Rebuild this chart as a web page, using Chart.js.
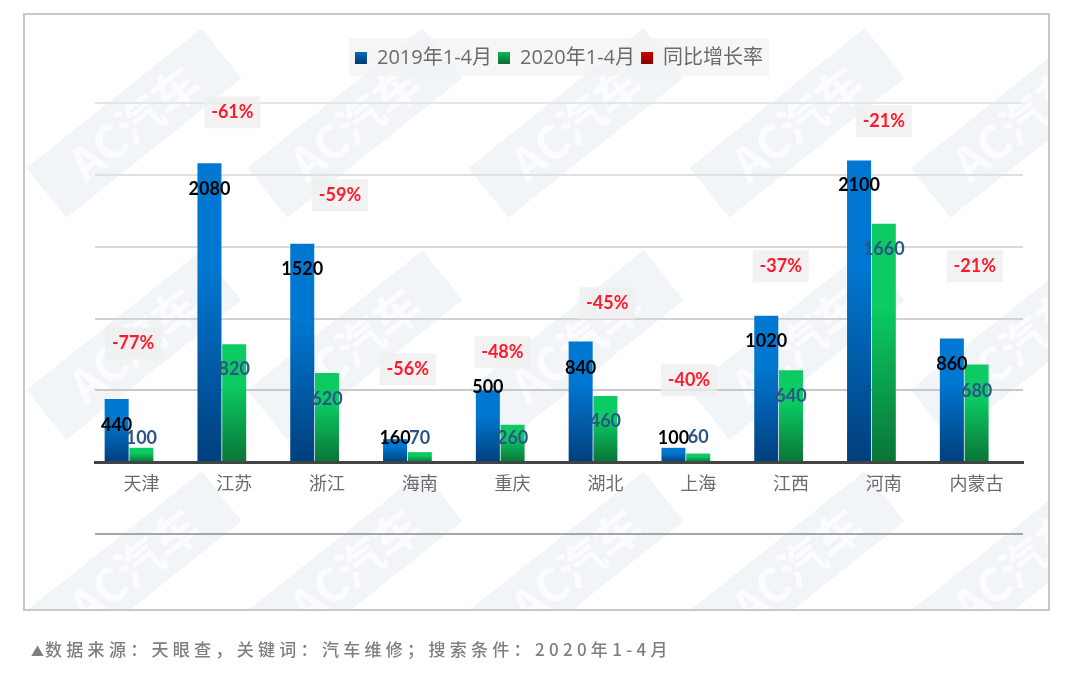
<!DOCTYPE html>
<html>
<head>
<meta charset="utf-8">
<script src="https://cdn.jsdelivr.net/npm/chart.js@4"></script>
<style>
body { margin: 0; background: #fff; }
#salesChart { position: absolute; left: 0; top: 0; }
#source { position: absolute; left: 31px; top: 636px; font: 500 17px "Noto Sans CJK SC"; letter-spacing: 4.3px; color: #7f7f7f; white-space: nowrap; }
#source span { font-size: 13px; letter-spacing: 1px; }
</style>
</head>
<body>
<canvas id="salesChart" width="1080" height="678"></canvas>
<div id="source"><span>▲</span>数据来源：天眼查，关键词：汽车维修；搜索条件：2020年1-4月</div>
<script>
const provinces = ['天津', '江苏', '浙江', '海南', '重庆', '湖北', '上海', '江西', '河南', '内蒙古'];
const sales2019 = [440, 2080, 1520, 160, 500, 840, 100, 1020, 2100, 860];
const sales2020 = [100, 820, 620, 70, 260, 460, 60, 640, 1660, 680];
const growthRate = [-0.77, -0.61, -0.59, -0.56, -0.48, -0.45, -0.40, -0.37, -0.21, -0.21];
const yTicks = [-500, 0, 500, 1000, 1500, 2000, 2500];

// the labels were dragged by hand in the original, so each one has its own spot
const label2019Y = [257, 1900, 1343, 167, 522, 654, 167, 842, 1927, 682];
const label2020Y = [167, 647, 438, 167, 167, 285, 174, 459, 1482, 494];
const rateLabelY = [828, 2435, 1858, 647, 765, 1106, 570, 1364, 2373, 1364];
const rateLabelX = [-0.09, -0.02, 0.14, -0.13, -0.11, 0.02, -0.1, -0.11, 0, -0.02];

const gridColors = { '-500': '#a6a6a6', '500': '#c9c9c9', '1000': '#d2d2d2', '1500': '#dadada', '2000': '#e0e0e0', '2500': '#e6e6e6' };
const markColumns = [134, 355, 576, 797, 1018];
const markRows = [123, 345, 566];
const legendColors = [['#0077d1', '#003f7c'], ['#0bcb62', '#0a7437'], ['#e00000', '#8c0000']];

function barGradient(top, bottom) {
    return function (context) {
        const chart = context.chart;
        if (!chart.chartArea || !context.parsed) return top;
        const y = chart.scales.y;
        const g = chart.ctx.createLinearGradient(0, y.getPixelForValue(context.parsed.y), 0, y.getPixelForValue(0));
        g.addColorStop(0, top);
        g.addColorStop(0.35, top);
        g.addColorStop(1, bottom);
        return g;
    };
}

const backdrop = {
    id: 'backdrop',
    beforeDraw(chart) {
        const c = chart.ctx;
        c.save();
        c.beginPath();
        c.rect(24, 14, 1025, 596);
        c.clip();
        markRows.forEach(function (my) {
            markColumns.forEach(function (mx) {
                c.save();
                c.translate(mx, my);
                c.rotate(-38.5 * Math.PI / 180);
                c.fillStyle = '#f2f5f8';
                c.fillRect(-112, -32, 224, 64);
                c.fillStyle = '#fbfcfd';
                c.font = 'bold 46px "Noto Sans CJK SC"';
                c.textAlign = 'center';
                c.textBaseline = 'middle';
                c.fillText('AC汽车', 0, 0);
                c.restore();
            });
        });
        c.restore();
        c.strokeStyle = '#c8c8c8';
        c.lineWidth = 2;
        c.strokeRect(24, 14, 1025, 596);
        c.fillStyle = 'rgba(242,242,242,0.7)';
        c.fillRect(349, 38, 420, 38);
    }
};

const barLabels = {
    id: 'barLabels',
    afterDatasetsDraw(chart) {
        const c = chart.ctx;
        const x = chart.scales.x;
        const y = chart.scales.y;
        c.save();
        c.textAlign = 'center';
        c.textBaseline = 'middle';
        c.font = 'bold 18px Lato';
        chart.getDatasetMeta(0).data.forEach(function (bar, i) {
            c.fillStyle = '#000';
            c.fillText(sales2019[i], bar.x, y.getPixelForValue(label2019Y[i]));
        });
        chart.getDatasetMeta(1).data.forEach(function (bar, i) {
            c.fillStyle = '#2b5588';
            c.fillText(sales2020[i], bar.x, y.getPixelForValue(label2020Y[i]));
        });
        growthRate.forEach(function (rate, i) {
            const px = x.getPixelForValue(i + rateLabelX[i]);
            const py = y.getPixelForValue(rateLabelY[i]);
            c.fillStyle = 'rgba(238,238,238,0.75)';
            c.fillRect(px - 28, py - 16, 56, 32);
            c.fillStyle = '#ff1a2b';
            c.fillText(Math.round(rate * 100) + '%', px, py);
        });
        c.restore();
    }
};

const salesCtx = document.getElementById('salesChart').getContext('2d');
const salesChart = new Chart(salesCtx, {
    type: 'bar',
    data: {
        labels: provinces,
        datasets: [{
            label: '2019年1-4月',
            data: sales2019,
            backgroundColor: barGradient('#0077d1', '#003f7c')
        }, {
            label: '2020年1-4月',
            data: sales2020,
            backgroundColor: barGradient('#0bcb62', '#0a7437')
        }, {
            // rates are fractions on a scale of thousands, only the legend entry and labels show
            label: '同比增长率',
            data: growthRate,
            backgroundColor: 'transparent'
        }]
    },
    options: {
        responsive: false,
        animation: false,
        layout: { padding: { left: 95, right: 57, top: 42, bottom: 144 } },
        datasets: { bar: { categoryPercentage: 0.8, barPercentage: 0.97 } },
        plugins: {
            tooltip: { enabled: false },
            title: { display: true, text: '', weight: 500, font: { size: 20 }, padding: 0.5 },
            legend: {
                position: 'top',
                labels: {
                    boxWidth: 12,
                    boxHeight: 12,
                    padding: 6,
                    color: '#6b6b6b',
                    font: { size: 20, family: '"Open Sans", "Noto Sans CJK SC"' },
                    generateLabels(chart) {
                        const items = Chart.defaults.plugins.legend.labels.generateLabels(chart);
                        items.forEach(function (item, i) {
                            const g = chart.ctx.createLinearGradient(0, 50, 0, 62);
                            g.addColorStop(0, legendColors[i][0]);
                            g.addColorStop(1, legendColors[i][1]);
                            item.fillStyle = g;
                            item.lineWidth = 0;
                        });
                        return items;
                    }
                }
            }
        },
        scales: {
            x: {
                position: { y: 0 },
                border: { color: '#444', width: 3 },
                grid: { display: false },
                ticks: { color: '#6b6b6b', padding: 2, maxRotation: 0, font: { size: 18, family: '"Noto Sans CJK SC"' } }
            },
            y: {
                min: yTicks[0],
                max: yTicks[yTicks.length - 1],
                afterBuildTicks(scale) {
                    scale.ticks = yTicks.map(function (v) { return { value: v }; });
                },
                border: { display: false },
                grid: {
                    drawTicks: false,
                    lineWidth: 2,
                    color(context) { return gridColors[context.tick.value] || 'transparent'; }
                },
                ticks: { display: false }
            }
        }
    },
    plugins: [backdrop, barLabels]
});
</script>
</body>
</html>
